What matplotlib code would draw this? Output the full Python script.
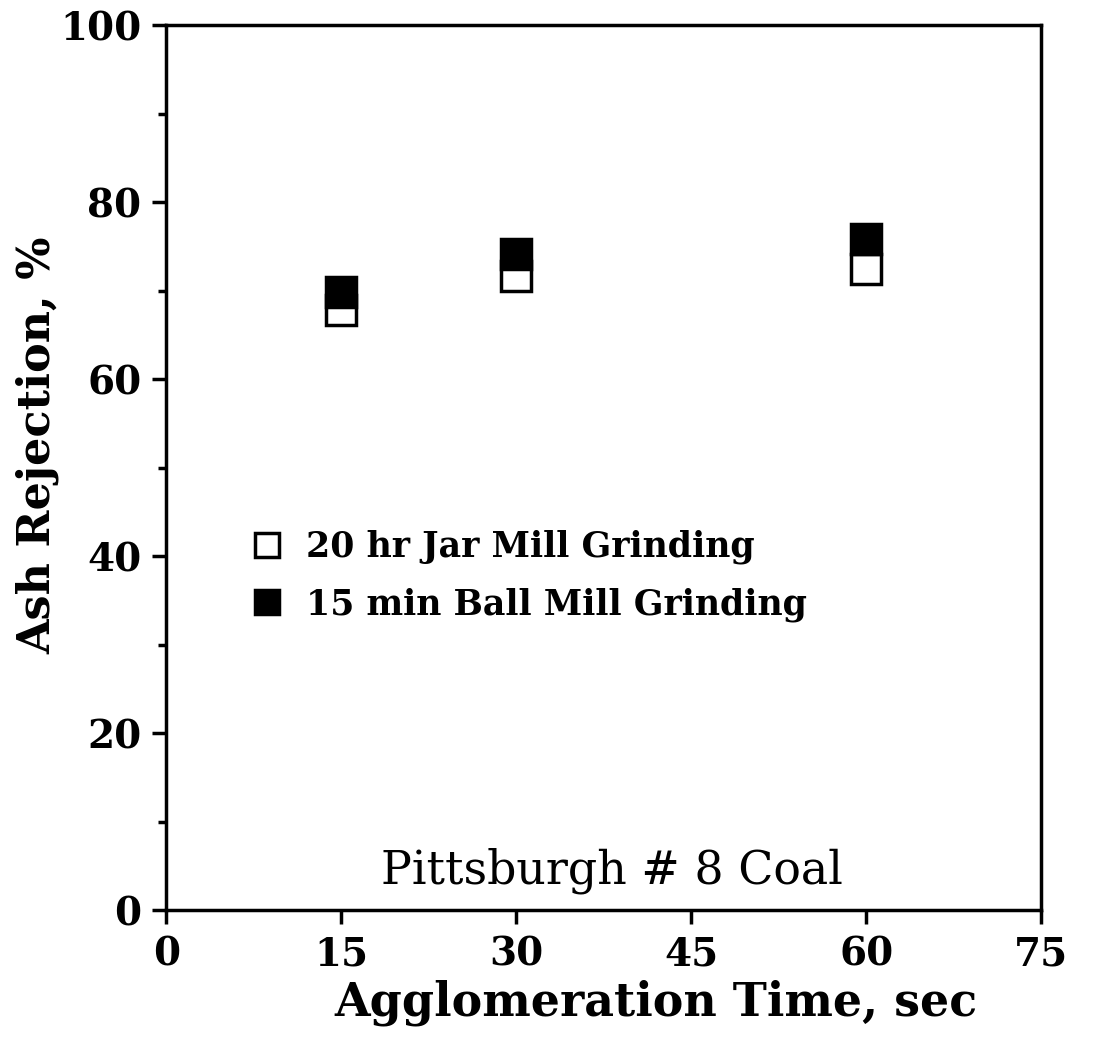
import matplotlib.pyplot as plt

# data
time_sec = [15, 30, 60]
jar_mill = [67.8, 71.6, 72.5]    # 20 hr Jar Mill Grinding (open squares)
ball_mill = [69.9, 74.1, 75.8]   # 15 min Ball Mill Grinding (filled squares)

x_ticks = [0, 15, 30, 45, 60, 75]
y_ticks = [0, 20, 40, 60, 80, 100]

plt.rcParams['font.family'] = 'DejaVu Serif'
plt.rcParams['font.weight'] = 'bold'

fig = plt.figure(figsize=(10.94, 10.44), dpi=100)
ax = fig.add_axes([0.152, 0.128, 0.800, 0.848])

ax.plot(time_sec, jar_mill, 's', ms=21, mfc='white', mec='black', mew=2.5,
        ls='none', label='20 hr Jar Mill Grinding')
ax.plot(time_sec, ball_mill, 's', ms=21, mfc='black', mec='black', mew=2.5,
        ls='none', label='15 min Ball Mill Grinding')

ax.set_xlim(0, 75)
ax.set_ylim(0, 100)
ax.set_xticks(x_ticks)
ax.set_yticks(y_ticks)
ax.set_yticks(range(10, 100, 20), minor=True)
ax.tick_params(axis='both', which='major', direction='out', length=10, width=2.5,
               labelsize=28, pad=8)
ax.tick_params(axis='y', which='minor', direction='out', length=6, width=2.5)
for s in ax.spines.values():
    s.set_linewidth(2.5)

ax.set_xlabel('Agglomeration Time, sec', fontsize=33, fontweight='bold')
ax.set_ylabel('Ash Rejection, %', fontsize=32, fontweight='bold')
ax.xaxis.set_label_coords(0.56, -0.078)
ax.yaxis.set_label_coords(-0.122, 0.525)

ax.text(38.2, 4.5, 'Pittsburgh # 8 Coal', fontsize=33, fontweight='normal',
        ha='center', va='center')

leg = ax.legend(loc='upper left', bbox_to_anchor=(0.06, 0.465), frameon=False,
                fontsize=25, markerscale=0.8, handlelength=1.0, handletextpad=0.6,
                labelspacing=0.65, numpoints=1)

fig.savefig('out.png', dpi=100)
